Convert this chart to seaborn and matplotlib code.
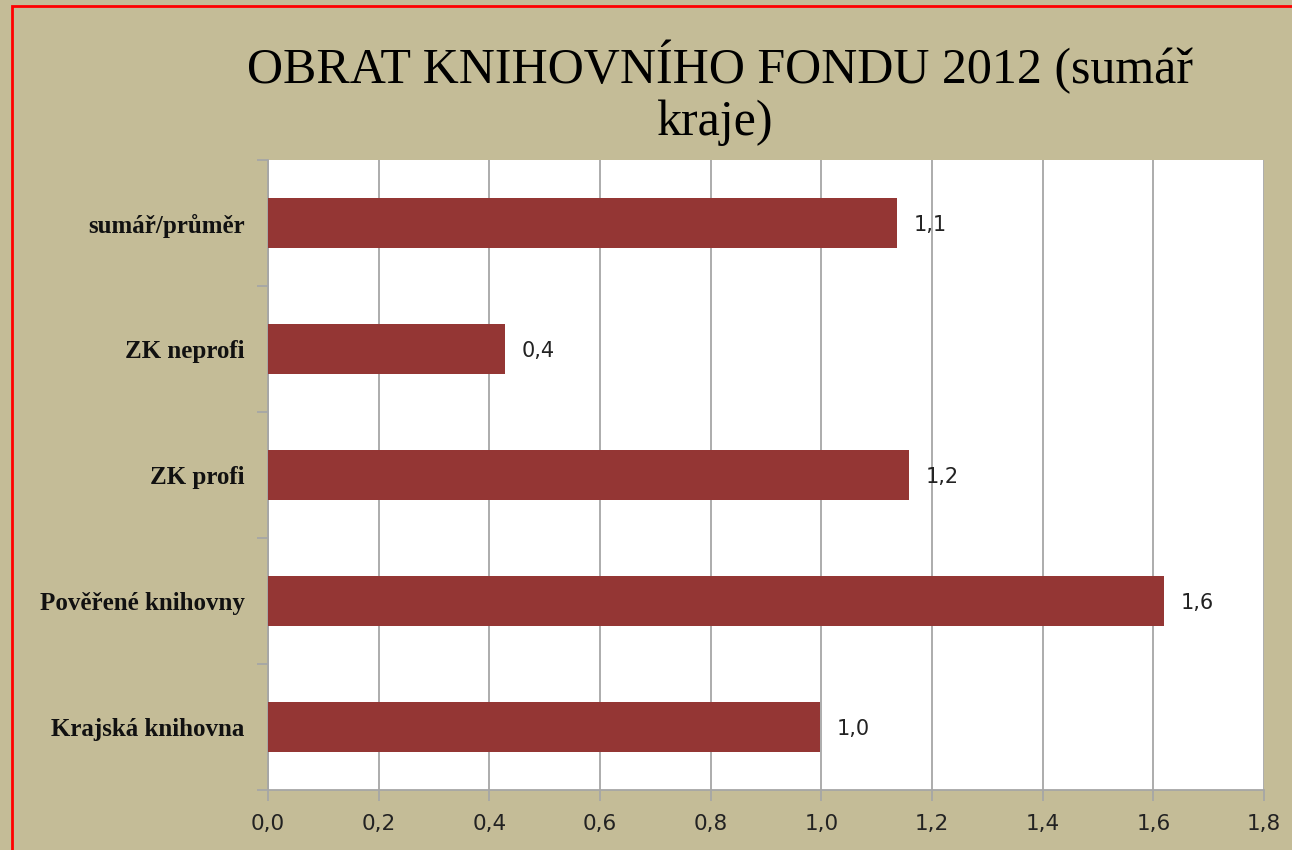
import matplotlib
matplotlib.use("Agg")
import matplotlib.pyplot as plt
import matplotlib.ticker as mticker
from matplotlib.patches import Rectangle
import pandas as pd
import seaborn as sns

# data (top to bottom as in the chart)
categories = ["sumář/průměr", "ZK neprofi", "ZK profi", "Pověřené knihovny", "Krajská knihovna"]
values = [1.137, 0.428, 1.159, 1.619, 0.998]
value_labels = ["1,1", "0,4", "1,2", "1,6", "1,0"]
x_ticks = [0.0, 0.2, 0.4, 0.6, 0.8, 1.0, 1.2, 1.4, 1.6, 1.8]

bg = "#C4BC97"
bar_color = "#943634"
grid_color = "#A6A6A6"

sns.set_style("white")
plt.rcParams["font.family"] = ["DejaVu Sans"]

df = pd.DataFrame({"kategorie": categories, "obrat": values})

fig = plt.figure(figsize=(12.92, 8.5), dpi=100, facecolor=bg)
ax = fig.add_axes([268 / 1292, 1 - 790 / 850, (1264 - 268) / 1292, (790 - 160) / 850])
ax.set_facecolor("white")

sns.barplot(data=df, x="obrat", y="kategorie", orient="h", color=bar_color,
            width=0.4, saturation=1, linewidth=0, edgecolor=bar_color, ax=ax, zorder=3)

ax.set_xlim(0, 1.8)
ax.set_ylim(4.5, -0.5)
ax.set_xticks(x_ticks)
ax.xaxis.set_major_formatter(mticker.FuncFormatter(lambda v, p: f"{v:.1f}".replace(".", ",")))
ax.grid(axis="x", color=grid_color, linewidth=1.3, zorder=0)
ax.set_axisbelow(True)

for s in ["top", "right"]:
    ax.spines[s].set_visible(False)
for s in ["left", "bottom"]:
    ax.spines[s].set_color(grid_color)
    ax.spines[s].set_linewidth(1.3)

ax.tick_params(axis="x", bottom=True, direction="out", length=8, width=1.3, color=grid_color,
               labelsize=15.5, labelcolor="#222222", pad=9)
ax.tick_params(axis="y", which="major", left=True, length=0, pad=17)
ax.set_yticks([i - 0.5 for i in range(len(categories) + 1)], minor=True)
ax.tick_params(axis="y", which="minor", left=True, direction="out", length=8, width=1.3,
               color=grid_color)
for lab in ax.get_yticklabels():
    lab.set_fontfamily("Liberation Serif")
    lab.set_fontweight("bold")
    lab.set_fontsize(18)
    lab.set_color("#111111")

ax.set_xlabel("")
ax.set_ylabel("")

for i, (v, t) in enumerate(zip(values, value_labels)):
    ax.annotate(t, xy=(v, i), xytext=(12, -1.5), textcoords="offset points",
                va="center", ha="left", fontsize=15, color="#222222")

title_lines = ["OBRAT KNIHOVNÍHO FONDU 2012 (sumář", "kraje)"]
fig.text(720 / 1292, 1 - 83 / 850, title_lines[0], ha="center", va="baseline",
         fontsize=36, family="Liberation Serif", color="black")
fig.text(715 / 1292, 1 - 135 / 850, title_lines[1], ha="center", va="baseline",
         fontsize=36, family="Liberation Serif", color="black")

fig.patches.append(Rectangle((11.5 / 1292, -0.1), 1.2, 1.1 - 5.5 / 850, transform=fig.transFigure,
                             fill=False, edgecolor="#FF0000", linewidth=2, zorder=10))

fig.savefig("out.png", dpi=100, facecolor=bg)
